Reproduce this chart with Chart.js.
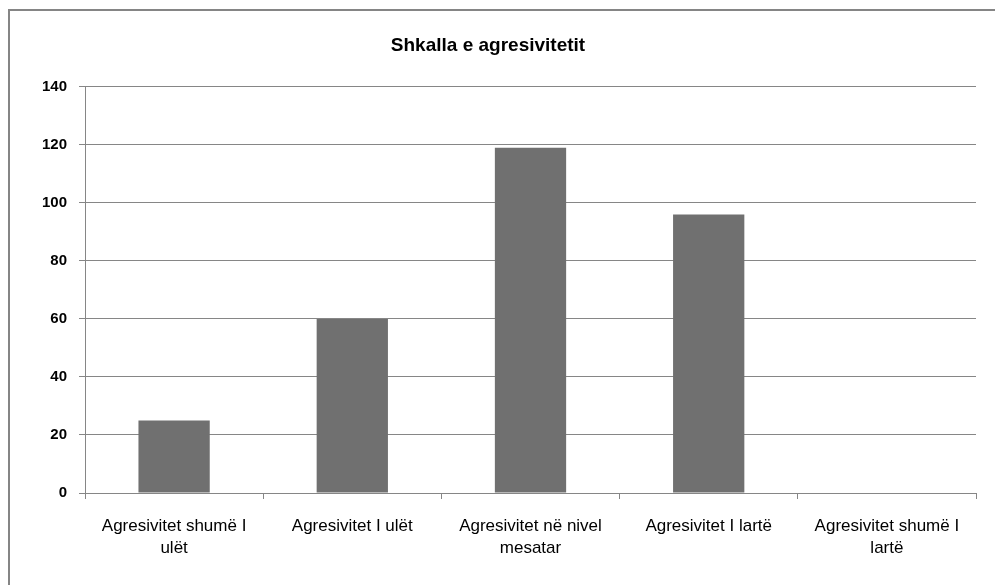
<!DOCTYPE html>
<html lang="sq">
<head>
    <meta charset="UTF-8">
    <title>Shkalla e agresivitetit</title>
    <style>
        body {
            margin: 0;
            padding: 0;
            background-color: #fff;
            overflow: hidden;
        }

        /* outer chart frame, runs off the right and bottom edge */
        .frame {
            position: absolute;
            left: 8px;
            top: 9px;
            width: 1100px;
            height: 700px;
            border: 2px solid #858585;
        }

        #chart {
            position: absolute;
            left: 0;
            top: 0;
        }
    </style>
    <script src="https://cdn.jsdelivr.net/npm/chart.js"></script>
</head>
<body>
    <div class="frame"></div>
    <canvas id="chart" width="995" height="585"></canvas>

    <script>
        const categories = [
            ['Agresivitet shumë I', 'ulët'],
            'Agresivitet I ulët',
            ['Agresivitet në nivel', 'mesatar'],
            'Agresivitet I lartë',
            ['Agresivitet shumë I', 'lartë']
        ];
        const counts = [25, 60, 119, 96, 0];
        const yTicks = [0, 20, 40, 60, 80, 100, 120, 140];

        const gridColor = '#868686';
        const fontFamily = '"Liberation Sans", Arial, sans-serif';

        const ctx = document.getElementById('chart').getContext('2d');
        new Chart(ctx, {
            type: 'bar',
            data: {
                labels: categories,
                datasets: [{
                    data: counts,
                    backgroundColor: '#707070',
                    borderWidth: 0,
                    categoryPercentage: 1.0,
                    barPercentage: 0.4
                }]
            },
            options: {
                responsive: false,
                animation: false,
                layout: {
                    padding: { left: 0, right: 19, top: 0, bottom: 0 }
                },
                plugins: {
                    legend: { display: false },
                    tooltip: { enabled: false },
                    title: {
                        display: true,
                        text: 'Shkalla e agresivitetit',
                        color: '#000',
                        font: { family: fontFamily, size: 19, weight: 'bold', lineHeight: 1.2 },
                        padding: { top: 34, bottom: 30 }
                    }
                },
                scales: {
                    x: {
                        grid: {
                            offset: true,
                            drawOnChartArea: false,
                            drawTicks: true,
                            tickLength: 6,
                            color: gridColor
                        },
                        border: { color: gridColor, width: 1 },
                        ticks: {
                            color: '#000',
                            font: { family: fontFamily, size: 17, lineHeight: 1.25 },
                            padding: 17,
                            maxRotation: 0,
                            autoSkip: false
                        },
                        afterFit: function (scale) {
                            scale.height = 92;
                        }
                    },
                    y: {
                        min: yTicks[0],
                        max: yTicks[yTicks.length - 1],
                        afterBuildTicks: function (scale) {
                            scale.ticks = yTicks.map(v => ({ value: v }));
                        },
                        grid: {
                            color: gridColor,
                            drawTicks: true,
                            tickLength: 6
                        },
                        border: { color: gridColor, width: 1 },
                        ticks: {
                            color: '#000',
                            font: { family: fontFamily, size: 15, weight: 'bold' },
                            padding: 12
                        },
                        afterFit: function (scale) {
                            scale.width = 85;
                        }
                    }
                }
            }
        });
    </script>
</body>
</html>
